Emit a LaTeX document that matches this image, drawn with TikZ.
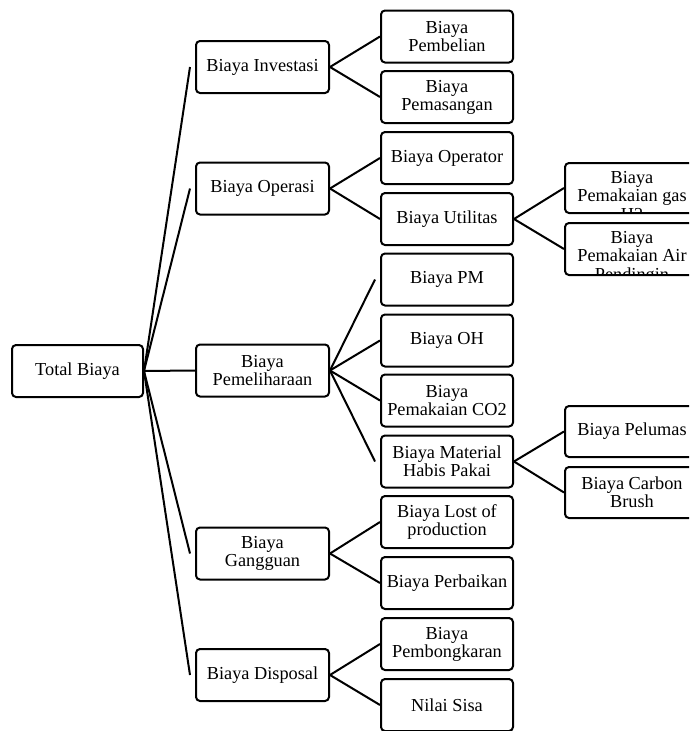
\documentclass[tikz,border=0pt]{standalone}
\usepackage{fontspec}
\setmainfont{Liberation Serif}
\usetikzlibrary{calc}
\begin{document}
\begin{tikzpicture}[x=1pt,y=-1pt,
  box/.style={draw, line width=2pt, rounded corners=4pt, minimum width=132pt,
    minimum height=52pt, align=center, inner sep=0pt, font=\fontsize{18.3}{18}\selectfont},
  cliptext/.style={align=center, anchor=north, inner sep=0pt, font=\fontsize{18.3}{18.5}\selectfont},
  link/.style={line width=2pt}]
\clip (0,0) rectangle (689,731);
% root
\node[box, minimum width=131pt] (T) at (77.5,371) {Total Biaya};
% level 1
\node[box, minimum width=133pt] (I) at (262.5,67) {Biaya Investasi};
\node[box, minimum width=133pt] (O) at (262.5,188.5) {Biaya Operasi};
\node[box, minimum width=133pt] (P) at (262.5,370.5) {Biaya\\Pemeliharaan};
\node[box, minimum width=133pt] (G) at (262.5,553.5) {Biaya\\Gangguan};
\node[box, minimum width=133pt] (D) at (262.5,675) {Biaya Disposal};
% level 2
\node[box] (Pb) at (447,36.5) {Biaya\\Pembelian};
\node[box] (Pm) at (447,97) {Biaya\\Pemasangan};
\node[box] (Op) at (447,158) {Biaya Operator};
\node[box] (Ut) at (447,219) {Biaya Utilitas};
\node[box] (PM) at (447,279.5) {Biaya PM};
\node[box] (OH) at (447,340.5) {Biaya OH};
\node[box] (CO) at (447,400.5) {Biaya\\Pemakaian CO2};
\node[box] (MH) at (447,461.5) {Biaya Material\\Habis Pakai};
\node[box] (LP) at (447,522) {Biaya Lost of\\production};
\node[box] (Pr) at (447,583) {Biaya Perbaikan};
\node[box] (Bk) at (447,644) {Biaya\\Pembongkaran};
\node[box] (NS) at (447,705) {Nilai Sisa};
% level 3
\node[box, minimum width=134pt, minimum height=50pt] (H2) at (632,188) {};
\begin{scope}
  \clip ($(H2.north west)+(1,1)$) rectangle ($(H2.south east)+(-1,-2)$);
  \node[cliptext] (H2t) at ($(H2.north)+(0,9)$) {Biaya\\Pemakaian gas\\H2};
\end{scope}
\node[box, minimum width=134pt, minimum height=52pt] (AP) at (632,249) {};
\begin{scope}
  \clip ($(AP.north west)+(1,1)$) rectangle ($(AP.south east)+(-1,-2)$);
  \node[cliptext] (APt) at ($(AP.north)+(0,9)$) {Biaya\\Pemakaian Air\\Pendingin};
\end{scope}
\node[box, minimum width=134pt, minimum height=51pt] (Pl) at (632,431.5) {Biaya Pelumas};
\node[box, minimum width=134pt, minimum height=51pt] (CB) at (632,492.5) {Biaya Carbon\\Brush};
% connectors root -> level 1
\coordinate (Ie) at ($(I.west)+(-5,0)$);
\coordinate (Oe) at ($(O.west)+(-5,0)$);
\coordinate (Ge) at ($(G.west)+(-5,0)$);
\coordinate (De) at ($(D.west)+(-5,0)$);
\draw[link] (T.east) -- (Ie);
\draw[link] (T.east) -- (Oe);
\draw[link] (T.east) -- (P.west);
\draw[link] (T.east) -- (Ge);
\draw[link] (T.east) -- (De);
% level 1 -> level 2
\draw[link] (I.east) -- (Pb.west);
\draw[link] (I.east) -- (Pm.west);
\draw[link] (O.east) -- (Op.west);
\draw[link] (O.east) -- (Ut.west);
\coordinate (PMe) at ($(PM.west)+(-5,0)$);
\coordinate (MHe) at ($(MH.west)+(-5,0)$);
\draw[link] (P.east) -- (PMe);
\draw[link] (P.east) -- (OH.west);
\draw[link] (P.east) -- (CO.west);
\draw[link] (P.east) -- (MHe);
\draw[link] (G.east) -- (LP.west);
\draw[link] (G.east) -- (Pr.west);
\draw[link] (D.east) -- (Bk.west);
\draw[link] (D.east) -- (NS.west);
% level 2 -> level 3
\draw[link] (Ut.east) -- (H2.west);
\draw[link] (Ut.east) -- (AP.west);
\draw[link] (MH.east) -- (Pl.west);
\draw[link] (MH.east) -- (CB.west);
\end{tikzpicture}
\end{document}
